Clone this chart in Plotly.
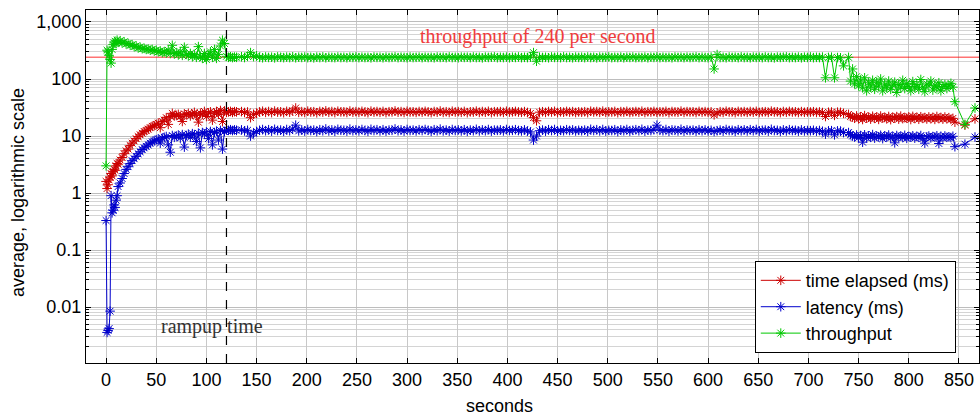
import plotly.graph_objects as go

# ---------------- data ----------------
t_start = [0, 1, 2, 3, 4, 5, 6, 7, 8, 9, 10, 11, 12]
t_ramp = list(range(14, 131, 2))
t_steady = list(range(135, 736, 3))
t_late = list(range(740, 847, 2)) + [856, 866]
seconds = t_start + t_ramp + t_steady + t_late

elapsed_start = [1.6, 1.2, 1.4, 1.7, 1.9, 2.2, 2.0, 2.4, 2.6, 2.5, 3.0, 3.3, 3.2]
elapsed_ramp = [
    3.8, 4.2, 4.9, 5.5, 5.9, 6.8, 7.5, 8.2, 9.0, 9.8,
    10.5, 11.2, 12.0, 12.5, 13.2, 14.0, 14.8, 15.2, 16.0, 16.8,
    14.0, 18.0, 19.0, 21.0, 16.0, 22.0, 25.0, 22.5, 23.0, 24.0,
    22.0, 18.0, 24.5, 23.5, 25.0, 22.5, 24.0, 26.0, 23.0, 17.5,
    25.0, 24.0, 27.0, 22.0, 25.5, 26.5, 19.0, 25.0, 27.0, 24.0,
    28.0, 18.0, 27.5, 26.0, 26.5, 27.0, 26.0, 26.8, 26.5,
]
elapsed_steady = [
    26.8, 25.9, 26.4, 21.0, 24.0, 25.0, 26.5, 27.2, 26.0, 26.9,   # 135
    25.8, 27.4, 26.3, 26.6, 25.7, 27.1, 26.2, 27.5, 31.0, 26.0,   # 165
    26.8, 25.9, 27.3, 26.4, 26.7, 25.6, 27.0, 26.3, 27.6, 26.1,   # 195
    26.9, 25.8, 27.2, 26.5, 26.6, 25.9, 27.4, 26.2, 26.8, 26.0,   # 225
    27.1, 26.4, 25.7, 27.3, 26.3, 26.9, 26.1, 27.0, 25.8, 26.7,   # 255
    26.5, 27.5, 26.2, 26.8, 25.9, 27.2, 26.4, 26.6, 26.0, 26.9,   # 285
    26.3, 27.1, 26.5, 25.8, 26.9, 26.2, 27.4, 26.0, 26.7, 25.9,   # 315
    27.2, 26.4, 26.8, 26.1, 27.0, 25.7, 26.6, 26.3, 27.3, 26.0,   # 345
    26.9, 26.2, 27.1, 25.8, 26.7, 26.5, 26.8, 26.0, 27.2, 26.3,   # 375
    26.6, 27.0, 26.4, 26.1, 26.8, 25.9, 25.0, 21.0, 18.5, 26.2,   # 405
    26.7, 26.0, 26.9, 26.4, 27.1, 25.8, 26.6, 26.2, 27.0, 26.3,   # 435
    26.8, 25.9, 26.5, 26.2, 26.7, 25.8, 27.2, 26.4, 26.9, 26.1,   # 465
    27.3, 26.0, 26.6, 26.4, 27.0, 25.7, 26.8, 26.3, 27.1, 26.0,   # 495
    26.5, 26.9, 26.2, 27.2, 25.9, 26.7, 26.4, 27.0, 26.1, 26.6,   # 525
    26.3, 27.1, 25.8, 26.9, 26.5, 26.2, 27.3, 26.0, 26.8, 26.4,   # 555
    26.6, 25.9, 27.0, 26.3, 26.8, 26.1, 26.5, 23.5, 25.5, 26.7,   # 585
    26.0, 27.2, 26.4, 26.6, 25.8, 27.0, 26.3, 26.8, 26.1, 26.9,   # 615
    26.2, 27.1, 25.9, 26.5, 26.7, 26.0, 27.3, 26.4, 26.6, 25.8,   # 645
    26.9, 26.2, 27.0, 26.4, 26.6, 25.9, 26.8, 26.1, 26.5, 26.3,   # 675
    26.7, 26.0, 26.4, 25.8, 22.0, 26.1, 26.3, 23.0, 26.2, 26.0,   # 705
    25.0,                                                         # 735
]
elapsed_late = [
    24.0, 22.0, 21.5, 20.5, 22.5, 20.0, 21.8, 19.5, 22.8, 20.6,
    21.4, 19.8, 22.2, 20.4, 21.6, 19.6, 22.4, 20.8, 21.2, 20.0,
    22.0, 19.4, 21.5, 20.6, 21.9, 19.8, 22.3, 20.2, 21.0, 20.5,
    21.7, 19.5, 22.1, 20.3, 21.4, 19.7, 21.8, 20.4, 21.1, 19.9,
    21.6, 20.1, 21.3, 19.6, 22.0, 20.2, 21.2, 19.8, 21.5, 20.0,
    21.0, 19.6, 20.4, 17.5,
    15.5, 20.0,
]

latency_start = [0.33, 0.0036, 0.0039, 0.0042, 0.0085, 0.9, 0.45, 0.5, 0.62, 0.56, 0.75, 0.9, 1.3]
latency_ramp = [
    1.5, 1.8, 2.2, 2.6, 2.9, 3.3, 3.7, 4.0, 4.4, 4.9,
    5.3, 5.8, 6.2, 6.6, 7.0, 7.5, 7.9, 8.2, 8.6, 8.9,
    7.5, 9.2, 9.5, 9.8, 7.0, 5.2, 10.2, 9.5, 10.0, 10.4,
    9.2, 10.6, 6.4, 10.2, 10.8, 9.5, 11.0, 10.5, 8.0, 11.2,
    6.2, 11.5, 10.8, 11.8, 9.0, 12.0, 7.0, 11.5, 12.2, 8.5,
    12.5, 5.9, 12.0, 12.8, 12.6, 12.9, 12.5, 12.8, 12.6,
]
latency_steady = [
    12.8, 12.3, 12.6, 10.0, 11.2, 12.0, 12.6, 13.0, 12.4, 12.9,   # 135
    12.2, 13.1, 12.5, 12.7, 12.1, 13.0, 12.4, 13.2, 15.5, 12.3,   # 165
    12.8, 12.2, 13.0, 12.5, 12.7, 12.0, 12.9, 12.4, 13.3, 12.3,   # 195
    12.8, 12.1, 13.1, 12.6, 12.6, 12.2, 13.2, 12.4, 12.8, 12.3,   # 225
    13.0, 12.5, 12.1, 13.1, 12.5, 12.9, 12.3, 12.9, 12.2, 12.7,   # 255
    12.6, 13.3, 12.4, 12.8, 12.2, 13.0, 12.5, 12.7, 12.3, 12.9,   # 285
    12.5, 13.0, 12.6, 12.1, 12.9, 12.4, 13.2, 12.3, 12.7, 12.2,   # 315
    13.0, 12.5, 12.8, 12.3, 12.9, 12.1, 12.7, 12.4, 13.1, 12.3,   # 345
    12.8, 12.4, 13.0, 12.2, 12.7, 12.6, 12.8, 12.3, 13.0, 12.5,   # 375
    12.6, 12.9, 12.5, 12.3, 12.8, 12.2, 11.8, 8.5, 10.0, 12.4,    # 405
    12.7, 12.2, 12.9, 12.5, 13.0, 12.1, 12.6, 12.4, 12.9, 12.5,   # 435
    12.8, 12.3, 12.6, 12.4, 12.7, 12.1, 13.1, 12.5, 12.9, 12.3,   # 465
    13.0, 12.2, 12.6, 12.5, 12.9, 12.0, 12.8, 12.4, 13.0, 12.2,   # 495
    12.6, 12.9, 12.4, 13.1, 12.2, 12.7, 12.5, 12.9, 15.5, 12.6,   # 525
    12.4, 13.0, 12.1, 12.8, 12.6, 12.3, 13.1, 12.2, 12.8, 12.5,   # 555
    12.7, 12.2, 12.9, 12.4, 12.8, 12.3, 12.6, 12.0, 12.4, 12.7,   # 585
    12.2, 13.0, 12.5, 12.6, 12.1, 12.9, 12.4, 12.8, 12.3, 12.9,   # 615
    12.4, 13.0, 12.2, 12.6, 12.7, 12.2, 13.1, 12.5, 12.6, 12.1,   # 645
    12.8, 12.3, 12.9, 12.5, 12.6, 12.2, 12.8, 12.3, 12.5, 12.4,   # 675
    12.6, 12.2, 12.5, 12.1, 10.8, 12.3, 12.4, 10.5, 12.3, 12.2,   # 705
    11.5,                                                         # 735
]
latency_late = [
    11.5, 10.6, 10.0, 9.6, 10.4, 9.4, 10.2, 7.8, 10.5, 9.3,
    10.1, 9.5, 10.6, 9.2, 10.0, 9.7, 10.3, 9.0, 10.1, 9.6,
    10.4, 9.3, 9.9, 7.6, 10.2, 9.5, 10.0, 9.4, 10.3, 9.1,
    9.8, 9.6, 10.1, 9.2, 9.9, 9.5, 10.2, 9.0, 7.5, 9.7,
    10.0, 9.3, 9.8, 9.6, 10.1, 7.4, 9.9, 9.2, 10.0, 9.5,
    9.7, 9.4, 9.9, 6.5,
    7.2, 9.6,
]

throughput_start = [3, 320, 300, 260, 220, 190, 330, 400, 430, 460, 420, 480, 440]
throughput_ramp = [
    470, 430, 450, 410, 420, 390, 400, 370, 380, 350,
    360, 340, 345, 330, 335, 320, 330, 310, 320, 300,
    310, 290, 300, 285, 320, 280, 390, 275, 290, 265,
    300, 260, 360, 270, 255, 280, 245, 270, 240, 370,
    250, 230, 280, 220, 260, 300, 240, 330, 230, 270,
    380, 480, 420, 250, 240, 245, 238, 242, 240,
]
throughput_steady = [
    245, 238, 250, 290, 247, 255, 240, 236, 243, 239,   # 135
    241, 235, 244, 240, 237, 242, 238, 245, 236, 241,   # 165
    239, 243, 237, 240, 235, 242, 238, 244, 236, 241,   # 195
    239, 237, 243, 238, 240, 236, 242, 239, 244, 237,   # 225
    241, 238, 240, 235, 243, 239, 241, 236, 242, 238,   # 255
    240, 244, 237, 241, 239, 236, 243, 238, 240, 242,   # 285
    237, 241, 238, 240, 236, 243, 239, 241, 237, 244,   # 315
    238, 240, 236, 242, 239, 241, 237, 243, 238, 240,   # 345
    235, 242, 239, 241, 244, 237, 240, 238, 242, 236,   # 375
    241, 239, 243, 237, 240, 238, 242, 290, 205, 241,   # 405
    238, 240, 236, 243, 239, 241, 237, 244, 238, 240,   # 435
    236, 242, 239, 241, 237, 243, 238, 240, 235, 242,   # 465
    239, 241, 244, 237, 240, 238, 242, 236, 241, 239,   # 495
    243, 237, 240, 238, 242, 236, 241, 239, 244, 237,   # 525
    241, 238, 240, 236, 243, 239, 241, 237, 242, 238,   # 555
    240, 244, 237, 241, 239, 236, 242, 150, 268, 238,   # 585
    240, 236, 243, 239, 241, 237, 244, 238, 240, 236,   # 615
    242, 239, 241, 237, 243, 238, 240, 235, 242, 239,   # 645
    241, 244, 237, 240, 238, 242, 236, 241, 239, 243,   # 675
    237, 240, 238, 242, 105, 239, 241, 105, 238, 235,   # 705
    170,                                                # 735
]
throughput_late = [
    240, 92, 150, 82, 110, 76, 96, 70, 105, 62,
    86, 72, 95, 66, 88, 75, 100, 62, 82, 70,
    92, 66, 78, 88, 58, 80, 72, 95, 68, 84,
    74, 62, 90, 70, 80, 66, 98, 72, 60, 82,
    76, 92, 64, 78, 70, 86, 62, 74, 80, 68,
    76, 84, 72, 40,
    16, 31,
]

elapsed = elapsed_start + elapsed_ramp + elapsed_steady + elapsed_late
latency = latency_start + latency_ramp + latency_steady + latency_late
throughput = throughput_start + throughput_ramp + throughput_steady + throughput_late

assert len(elapsed) == len(seconds), (len(elapsed), len(seconds))
assert len(latency) == len(seconds), (len(latency), len(seconds))
assert len(throughput) == len(seconds), (len(throughput), len(seconds))

target_throughput = 240
rampup_end = 120
x_ticks = list(range(0, 851, 50))
y_ticks = [0.01, 0.1, 1, 10, 100, 1000]
y_tick_text = ["0.01", "0.1", "1", "10", "100", "1,000"]
y_minor = [m * 10 ** e for e in range(-3, 4) for m in range(2, 10)]

# ---------------- figure ----------------
FONT = "Liberation Sans, Arial, Helvetica, sans-serif"
SERIF = "Liberation Serif, Times New Roman, serif"

fig = go.Figure()

fig.add_trace(go.Scatter(
    x=[-20, 870], y=[target_throughput, target_throughput], mode="lines",
    line=dict(color="rgba(255,0,0,0.55)", width=1.5),
    showlegend=False, hoverinfo="skip"))

series = [
    ("time elapsed (ms)", elapsed, "#cc0000"),
    ("latency (ms)", latency, "#0000cc"),
    ("throughput", throughput, "#00c800"),
]
for name, vals, col in series:
    fig.add_trace(go.Scatter(
        x=seconds, y=vals, name=name, mode="lines+markers",
        line=dict(color=col, width=1),
        marker=dict(symbol="asterisk-open", size=8, color=col,
                    line=dict(color=col, width=1)),
    ))

fig.add_shape(type="line", xref="x", yref="paper", x0=rampup_end, x1=rampup_end,
              y0=0, y1=1, line=dict(color="black", width=1.2, dash="dash"))

fig.add_annotation(text="throughput of 240 per second", xref="x", yref="paper",
                   x=430, y=0.926, xanchor="center", yanchor="middle", showarrow=False,
                   font=dict(family=SERIF, size=20, color="#f03c3c"))
fig.add_annotation(text="rampup time", xref="x", yref="paper",
                   x=106, y=0.102, xanchor="center", yanchor="middle", showarrow=False,
                   font=dict(family=SERIF, size=20, color="#333333"))

fig.add_annotation(text="seconds", xref="paper", yref="paper",
                   x=0.4636, y=-0.122, xanchor="center", yanchor="middle",
                   showarrow=False, font=dict(family=FONT, size=18, color="black"))
fig.add_annotation(text="average, logarithmic scale", xref="paper", yref="paper",
                   x=-0.076, y=0.482, xanchor="center", yanchor="middle",
                   textangle=-90, showarrow=False,
                   font=dict(family=FONT, size=18, color="black"))

fig.update_layout(
    width=980, height=418,
    margin=dict(l=86, r=1, t=10, b=55),
    paper_bgcolor="white", plot_bgcolor="white",
    font=dict(family=FONT, size=18, color="black"),
    legend=dict(x=0.974, y=0.028, xanchor="right", yanchor="bottom",
                bgcolor="white", bordercolor="black", borderwidth=1,
                font=dict(size=18), itemwidth=40, tracegroupgap=0),
)
fig.update_xaxes(
    range=[-20, 870], tickvals=x_ticks, ticks="inside", ticklen=5,
    tickcolor="black", showline=True, linecolor="black", linewidth=1, mirror="ticks",
    showgrid=True, gridcolor="#c8c8c8", gridwidth=1, zeroline=False,
    tickfont=dict(size=18),
)
fig.update_yaxes(
    type="log", range=[-2.98, 3.21], tickvals=y_ticks, ticktext=y_tick_text,
    ticks="inside", ticklen=5, tickcolor="black",
    showline=True, linecolor="black", linewidth=1, mirror="ticks",
    showgrid=True, gridcolor="#bdbdbd", gridwidth=1, zeroline=False,
    tickfont=dict(size=18),
    minor=dict(tickvals=y_minor, ticks="inside", ticklen=3, tickcolor="black",
               showgrid=True, gridcolor="#d4d4d4", gridwidth=1),
)

fig.write_html("out.html", config={"displayModeBar": False},
               post_script="document.body.style.margin='0px';")
